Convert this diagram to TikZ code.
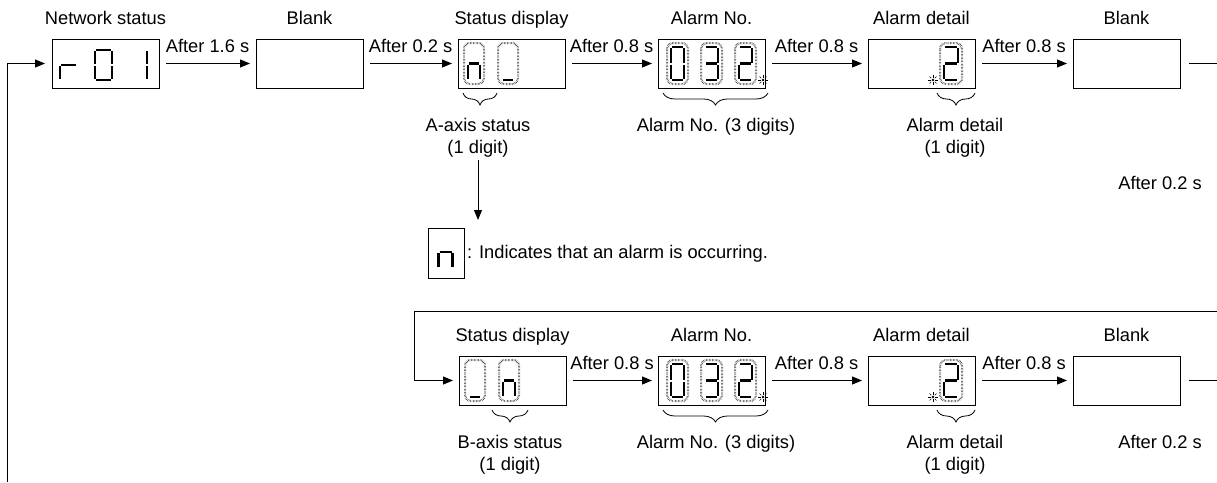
\documentclass[tikz,border=0pt]{standalone}
\usepackage{fontspec}
\setmainfont{Liberation Sans}
\usetikzlibrary{arrows.meta,decorations.pathreplacing}
\tikzset{
 box/.style={draw, line width=1pt, minimum width=107pt, minimum height=49pt, inner sep=0pt, outer sep=0pt, anchor=north west},
 conn/.style={line width=1pt, -{Triangle[length=10pt,width=8pt]}, shorten <=7pt, shorten >=6pt},
 plain/.style={line width=1pt},
 lbl/.style={inner sep=0pt, anchor=base},
 seg/.style={line width=2.8pt},
 dotline/.style={line width=2pt, dash pattern=on 0.45pt off 1.0pt, rounded corners=6pt, black!80},
 brc/.style={decorate, decoration={brace, mirror, amplitude=12pt}, line width=0.8pt},
}
\newcommand\sgM{3}
\newcommand\sgW{20}
\newcommand\sgH{40}
\def\sga{\draw[seg] (\sgM+1,\sgM) -- (\sgW-\sgM-1,\sgM);}
\def\sgb{\draw[seg] (\sgW-\sgM,\sgM+1) -- (\sgW-\sgM,\sgH/2-1);}
\def\sgc{\draw[seg] (\sgW-\sgM,\sgH/2+1) -- (\sgW-\sgM,\sgH-\sgM-1);}
\def\sgd{\draw[seg] (\sgM+1,\sgH-\sgM) -- (\sgW-\sgM-1,\sgH-\sgM);}
\def\sge{\draw[seg] (\sgM,\sgH/2+1) -- (\sgM,\sgH-\sgM-1);}
\def\sgf{\draw[seg] (\sgM,\sgM+1) -- (\sgM,\sgH/2-1);}
\def\sgg{\draw[seg] (\sgM+1,\sgH/2) -- (\sgW-\sgM-1,\sgH/2);}
\newcommand\sevseg[6]{%
 \begin{scope}[shift={(#1,#2)}]
 \def\sgW{#3}\def\sgH{#4}\def\sgM{#5}%
 \foreach \s in {#6}{\csname sg\s\endcsname}
 \end{scope}}
\newcommand\sevout[4]{\draw[dotline] (#1,#2) rectangle ++(#3,#4);}
\newcommand\burst[2]{%
 \begin{scope}[shift={(#1,#2)}]
 \fill (0,0) circle (1.3pt);
 \foreach \a in {0,45,...,315}{\draw[line width=0.5pt] (\a:2.4) -- (\a:4.8);}
 \end{scope}}
\begin{document}
\begin{tikzpicture}[x=1pt,y=-1pt,font=\fontsize{18.3}{22}\selectfont]
\useasboundingbox (0,0) rectangle (1217,482);
% ---------- row 1 ----------
\node[box] (b1) at (52,39) {};
\node[box] (b2) at (256,39) {};
\node[box] (b3) at (458,39) {};
\node[box] (b4) at (658,39) {};
\node[box] (b5) at (868,39) {};
\node[box] (b6) at (1073,39) {};
\node[lbl] (t1) at ([yshift=14.5pt]b1.north) {Network status};
\node[lbl] (t2) at ([yshift=14.5pt]b2.north) {Blank};
\node[lbl] (t3) at ([yshift=14.5pt]b3.north) {Status display};
\node[lbl] (t4) at ([yshift=14.5pt]b4.north) {Alarm No.};
\node[lbl] (t5) at ([yshift=14.5pt]b5.north) {Alarm detail};
\node[lbl] (t6) at ([yshift=14.5pt]b6.north) {Blank};
\draw[conn] (b1) -- node[lbl, yshift=11.5pt] (l1) {After 1.6 s} (b2);
\draw[conn] (b2) -- node[lbl, yshift=11.5pt] (l2) {After 0.2 s} (b3);
\draw[conn] (b3) -- node[lbl, yshift=11.5pt] (l3) {After 0.8 s} (b4);
\draw[conn] (b4) -- node[lbl, yshift=11.5pt] (l4) {After 0.8 s} (b5);
\draw[conn] (b5) -- node[lbl, yshift=11.5pt] (l5) {After 0.8 s} (b6);
\coordinate (lp) at (7,482);
\draw[conn, shorten <=0pt, shorten >=7pt] (lp) |- (b1.west);
\coordinate (e1) at (1217,63.5);
\draw[plain, shorten <=9pt] (b6.east) -- (e1);
\node[lbl] (r1) at (1160,189) {After 0.2 s};
% digits row 1
\sevseg{57}{47}{23}{36}{3}{e,g}
\sevseg{92}{47}{23}{36}{3}{a,b,c,d,e,f}
\sevseg{127}{47}{23}{36}{3}{b,c}
\sevout{464}{43}{20}{41}\sevseg{464}{43}{20}{41}{4}{c,e,g}
\sevout{498}{43}{20}{41}\sevseg{498}{43}{20}{41}{4}{d}
\sevout{667}{43}{21}{41}\sevseg{667}{43}{21}{41}{4}{a,b,c,d,e,f}
\sevout{701}{43}{21}{41}\sevseg{701}{43}{21}{41}{4}{a,b,c,d,g}
\sevout{735}{43}{21}{41}\sevseg{735}{43}{21}{41}{4}{a,b,d,e,g}
\burst{763}{80}
\sevout{940}{43}{22}{41}\sevseg{940}{43}{22}{41}{4}{a,b,d,e,g}
\burst{933}{80}
% braces row 1
\draw[brc] (463,93) -- (497,93);
\draw[brc] (663,93) -- (768,93);
\draw[brc] (937,93) -- (975,93);
\node[lbl] (a1) at (478,131) {A-axis status};
\node[lbl] (a2) at (478,153) {(1 digit)};
\node[lbl] (n1) at (716,131) {Alarm No. (3 digits)};
\node[lbl] (d1) at (955,131) {Alarm detail};
\node[lbl] (d2) at (955,153) {(1 digit)};
% legend
\node[draw, line width=1pt, minimum width=36pt, minimum height=50pt, inner sep=0pt, anchor=north west] (lg) at (428,228) {};
\sevseg{435}{233}{21}{38}{3.5}{c,e,g}
\node[inner sep=0pt, anchor=west] (lgt) at ([xshift=2pt]lg.east) {: Indicates that an alarm is occurring.};
\draw[conn, shorten <=3pt, shorten >=8pt] (a2.south) -- (a2.south |- lg.north);
% ---------- row 2 ----------
\node[box] (c1) at (459,356) {};
\node[box] (c2) at (658,356) {};
\node[box] (c3) at (868,356) {};
\node[box] (c4) at (1073,356) {};
\node[lbl] (u1) at ([yshift=14.5pt]c1.north) {Status display};
\node[lbl] (u2) at ([yshift=14.5pt]c2.north) {Alarm No.};
\node[lbl] (u3) at ([yshift=14.5pt]c3.north) {Alarm detail};
\node[lbl] (u4) at ([yshift=14.5pt]c4.north) {Blank};
\coordinate (s2) at (1217,311);
\coordinate (k2) at (414,311);
\draw[conn, shorten <=0pt] (s2) -- (k2) |- (c1.west);
\draw[conn] (c1) -- node[lbl, yshift=11.5pt] (m1) {After 0.8 s} (c2);
\draw[conn] (c2) -- node[lbl, yshift=11.5pt] (m2) {After 0.8 s} (c3);
\draw[conn] (c3) -- node[lbl, yshift=11.5pt] (m3) {After 0.8 s} (c4);
\coordinate (e2) at (1217,380.5);
\draw[plain, shorten <=9pt] (c4.east) -- (e2);
% digits row 2
\sevout{465}{360}{20}{41}\sevseg{465}{360}{20}{41}{4}{d}
\sevout{499}{360}{20}{41}\sevseg{499}{360}{20}{41}{4}{c,e,g}
\sevout{667}{360}{21}{41}\sevseg{667}{360}{21}{41}{4}{a,b,c,d,e,f}
\sevout{701}{360}{21}{41}\sevseg{701}{360}{21}{41}{4}{a,b,c,d,g}
\sevout{735}{360}{21}{41}\sevseg{735}{360}{21}{41}{4}{a,b,d,e,g}
\burst{763}{397}
\sevout{940}{360}{22}{41}\sevseg{940}{360}{22}{41}{4}{a,b,d,e,g}
\burst{933}{397}
% braces row 2
\draw[brc] (492,410) -- (528,410);
\draw[brc] (663,410) -- (768,410);
\draw[brc] (937,410) -- (975,410);
\node[lbl] (v1) at (510,448) {B-axis status};
\node[lbl] (v2) at (510,470) {(1 digit)};
\node[lbl] (w1) at (716,448) {Alarm No. (3 digits)};
\node[lbl] (x1) at (955,448) {Alarm detail};
\node[lbl] (x2) at (955,470) {(1 digit)};
\node[lbl] (r2) at (1160,448) {After 0.2 s};
\end{tikzpicture}
\end{document}
